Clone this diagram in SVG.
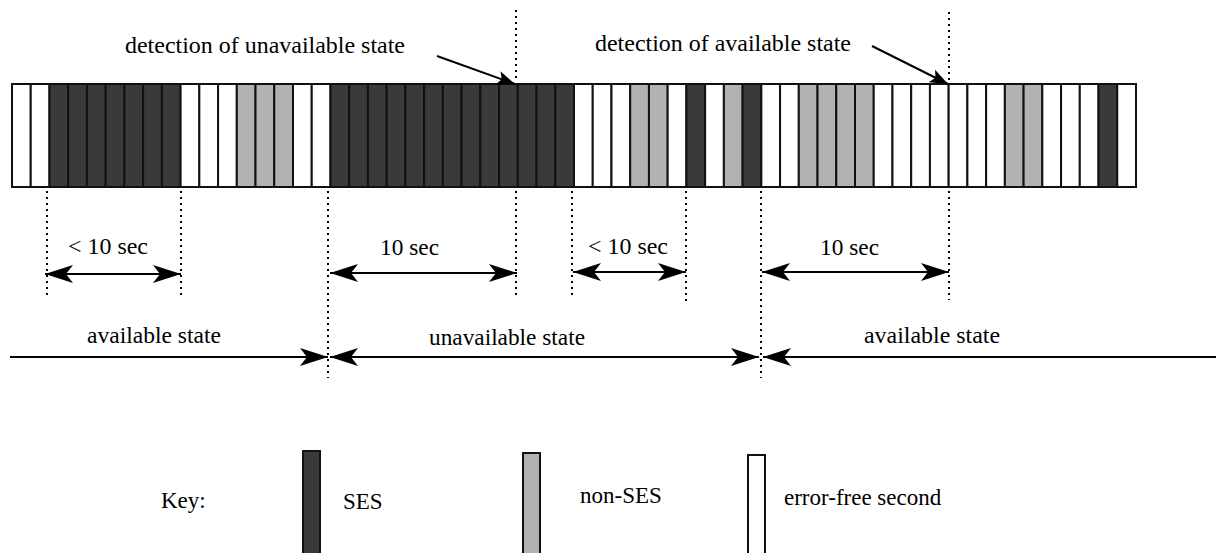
<svg xmlns="http://www.w3.org/2000/svg" width="1216" height="553" viewBox="0 0 1216 553">
<style>
.t{font-family:"Liberation Serif","Times New Roman",serif;font-size:23px;fill:#000}
.c{stroke:#111;stroke-width:2}
.W{fill:#fff}.D{fill:#3a3a3a}.G{fill:#b2b2b2}
.dot{stroke:#000;stroke-width:2;stroke-dasharray:2 4;fill:none}
.ln{stroke:#000;stroke-width:2;fill:none}
</style>
<defs>
<marker id="ah" viewBox="0 0 28 18" refX="28" refY="9" markerWidth="28" markerHeight="18" markerUnits="userSpaceOnUse" orient="auto-start-reverse">
<path d="M0,0 L28,9 L0,18 L7,9 z" fill="#000"/>
</marker>
<marker id="ahs" viewBox="0 0 18 14" refX="18" refY="7" markerWidth="18" markerHeight="14" markerUnits="userSpaceOnUse" orient="auto">
<path d="M0,0 L18,7 L0,14 L4,7 z" fill="#000"/>
</marker>
</defs>
<g id="strip">
<rect class="c W" x="12" y="84" width="18.73" height="103"/>
<rect class="c W" x="30.73" y="84" width="18.73" height="103"/>
<rect class="c D" x="49.47" y="84" width="18.73" height="103"/>
<rect class="c D" x="68.2" y="84" width="18.73" height="103"/>
<rect class="c D" x="86.93" y="84" width="18.73" height="103"/>
<rect class="c D" x="105.67" y="84" width="18.73" height="103"/>
<rect class="c D" x="124.4" y="84" width="18.73" height="103"/>
<rect class="c D" x="143.13" y="84" width="18.73" height="103"/>
<rect class="c D" x="161.87" y="84" width="18.73" height="103"/>
<rect class="c W" x="180.6" y="84" width="18.73" height="103"/>
<rect class="c W" x="199.33" y="84" width="18.73" height="103"/>
<rect class="c W" x="218.07" y="84" width="18.73" height="103"/>
<rect class="c G" x="236.8" y="84" width="18.73" height="103"/>
<rect class="c G" x="255.53" y="84" width="18.73" height="103"/>
<rect class="c G" x="274.27" y="84" width="18.73" height="103"/>
<rect class="c W" x="293" y="84" width="18.73" height="103"/>
<rect class="c W" x="311.73" y="84" width="18.73" height="103"/>
<rect class="c D" x="330.47" y="84" width="18.73" height="103"/>
<rect class="c D" x="349.2" y="84" width="18.73" height="103"/>
<rect class="c D" x="367.93" y="84" width="18.73" height="103"/>
<rect class="c D" x="386.67" y="84" width="18.73" height="103"/>
<rect class="c D" x="405.4" y="84" width="18.73" height="103"/>
<rect class="c D" x="424.13" y="84" width="18.73" height="103"/>
<rect class="c D" x="442.87" y="84" width="18.73" height="103"/>
<rect class="c D" x="461.6" y="84" width="18.73" height="103"/>
<rect class="c D" x="480.33" y="84" width="18.73" height="103"/>
<rect class="c D" x="499.07" y="84" width="18.73" height="103"/>
<rect class="c D" x="517.8" y="84" width="18.73" height="103"/>
<rect class="c D" x="536.53" y="84" width="18.73" height="103"/>
<rect class="c D" x="555.27" y="84" width="18.73" height="103"/>
<rect class="c W" x="574" y="84" width="18.73" height="103"/>
<rect class="c W" x="592.73" y="84" width="18.73" height="103"/>
<rect class="c W" x="611.47" y="84" width="18.73" height="103"/>
<rect class="c G" x="630.2" y="84" width="18.73" height="103"/>
<rect class="c G" x="648.93" y="84" width="18.73" height="103"/>
<rect class="c W" x="667.67" y="84" width="18.73" height="103"/>
<rect class="c D" x="686.4" y="84" width="18.73" height="103"/>
<rect class="c W" x="705.13" y="84" width="18.73" height="103"/>
<rect class="c G" x="723.87" y="84" width="18.73" height="103"/>
<rect class="c D" x="742.6" y="84" width="18.73" height="103"/>
<rect class="c W" x="761.33" y="84" width="18.73" height="103"/>
<rect class="c W" x="780.07" y="84" width="18.73" height="103"/>
<rect class="c G" x="798.8" y="84" width="18.73" height="103"/>
<rect class="c G" x="817.53" y="84" width="18.73" height="103"/>
<rect class="c G" x="836.27" y="84" width="18.73" height="103"/>
<rect class="c G" x="855" y="84" width="18.73" height="103"/>
<rect class="c W" x="873.73" y="84" width="18.73" height="103"/>
<rect class="c W" x="892.47" y="84" width="18.73" height="103"/>
<rect class="c W" x="911.2" y="84" width="18.73" height="103"/>
<rect class="c W" x="929.93" y="84" width="18.73" height="103"/>
<rect class="c W" x="948.67" y="84" width="18.73" height="103"/>
<rect class="c W" x="967.4" y="84" width="18.73" height="103"/>
<rect class="c W" x="986.13" y="84" width="18.73" height="103"/>
<rect class="c G" x="1004.87" y="84" width="18.73" height="103"/>
<rect class="c G" x="1023.6" y="84" width="18.73" height="103"/>
<rect class="c W" x="1042.33" y="84" width="18.73" height="103"/>
<rect class="c W" x="1061.07" y="84" width="18.73" height="103"/>
<rect class="c W" x="1079.8" y="84" width="18.73" height="103"/>
<rect class="c D" x="1098.53" y="84" width="18.73" height="103"/>
<rect class="c W" x="1117.27" y="84" width="18.73" height="103"/>
</g>
<g id="guides">
<line class="dot" x1="516" y1="10" x2="516" y2="82"/>
<line class="dot" x1="949" y1="12" x2="949" y2="82"/>
<line class="dot" x1="47" y1="191" x2="47" y2="295"/>
<line class="dot" x1="181" y1="191" x2="181" y2="295"/>
<line class="dot" x1="328" y1="191" x2="328" y2="378"/>
<line class="dot" x1="516" y1="191" x2="516" y2="296"/>
<line class="dot" x1="572" y1="191" x2="572" y2="296"/>
<line class="dot" x1="686" y1="191" x2="686" y2="302"/>
<line class="dot" x1="761" y1="191" x2="761" y2="378"/>
<line class="dot" x1="949" y1="191" x2="949" y2="300"/>
</g>
<g id="connectors">
<line class="ln" x1="437" y1="56" x2="515" y2="84" marker-end="url(#ahs)"/>
<line class="ln" x1="872" y1="46" x2="948" y2="84" marker-end="url(#ahs)"/>
<line class="ln" x1="45" y1="274" x2="181" y2="274" marker-start="url(#ah)" marker-end="url(#ah)"/>
<line class="ln" x1="330" y1="273" x2="517" y2="273" marker-start="url(#ah)" marker-end="url(#ah)"/>
<line class="ln" x1="573" y1="272" x2="686" y2="272" marker-start="url(#ah)" marker-end="url(#ah)"/>
<line class="ln" x1="762" y1="272" x2="949" y2="272" marker-start="url(#ah)" marker-end="url(#ah)"/>
<line class="ln" x1="10" y1="357" x2="328" y2="357" marker-end="url(#ah)"/>
<line class="ln" x1="330" y1="357" x2="759" y2="357" marker-start="url(#ah)" marker-end="url(#ah)"/>
<line class="ln" x1="763" y1="357" x2="1216" y2="357" marker-start="url(#ah)"/>
</g>
<g id="labels">
<text class="t" x="125" y="53" textLength="280" lengthAdjust="spacingAndGlyphs">detection of unavailable state</text>
<text class="t" x="595" y="51" textLength="256" lengthAdjust="spacingAndGlyphs">detection of available state</text>
<text class="t" x="68" y="254" textLength="80" lengthAdjust="spacingAndGlyphs">&lt; 10 sec</text>
<text class="t" x="380" y="255" textLength="59" lengthAdjust="spacingAndGlyphs">10 sec</text>
<text class="t" x="588" y="254" textLength="80" lengthAdjust="spacingAndGlyphs">&lt; 10 sec</text>
<text class="t" x="820" y="255" textLength="59" lengthAdjust="spacingAndGlyphs">10 sec</text>
<text class="t" x="87" y="343" textLength="134" lengthAdjust="spacingAndGlyphs">available state</text>
<text class="t" x="429" y="345" textLength="156" lengthAdjust="spacingAndGlyphs">unavailable state</text>
<text class="t" x="864" y="343" textLength="136" lengthAdjust="spacingAndGlyphs">available state</text>
</g>
<g id="key">
<text class="t" x="161" y="508">Key:</text>
<rect class="c D" x="303" y="451" width="17" height="110"/>
<text class="t" x="343" y="509">SES</text>
<rect class="c G" x="523" y="453" width="17" height="110"/>
<text class="t" x="580" y="503">non-SES</text>
<rect class="c W" x="748" y="455" width="17" height="110"/>
<text class="t" x="784" y="505">error-free second</text>
</g>
</svg>
